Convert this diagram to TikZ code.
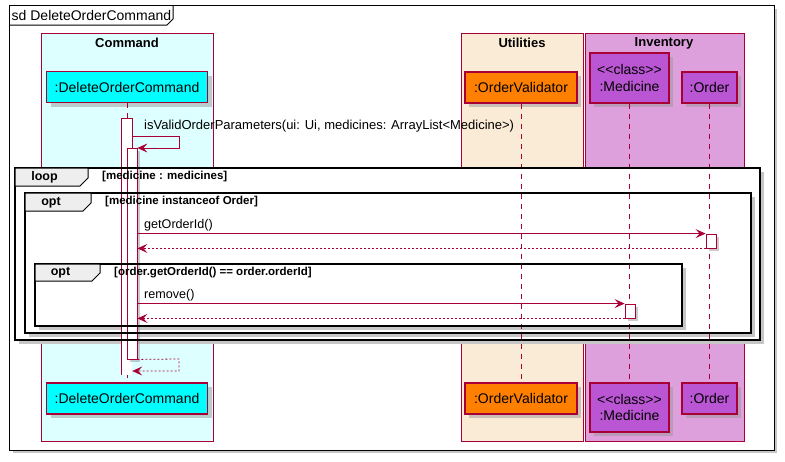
\documentclass[tikz,border=0pt]{standalone}
\usepackage{fontspec}
\setmainfont{Liberation Sans}
\usetikzlibrary{arrows.meta,shadows}
\definecolor{crim}{HTML}{A80036}
\definecolor{cmdbg}{HTML}{DDFFFF}
\definecolor{utilbg}{HTML}{FAEBD7}
\definecolor{invbg}{HTML}{DDA0DD}
\definecolor{cyanp}{HTML}{00FFFF}
\definecolor{orangep}{HTML}{FF8000}
\definecolor{orchidp}{HTML}{BA55D3}
\definecolor{tabgray}{HTML}{EEEEEE}
\newcommand\frbody[4]{%
  \draw[gray!45, line width=3pt] (#1+4,#4+2.5) -- (#3+2.5,#4+2.5) -- (#3+2.5,#2+4);
  \fill[white] (#1,#2) rectangle (#3,#4);}
\newcommand\frtop[8]{%
  \draw[black, line width=1.7pt] (#1,#2) rectangle (#3,#4);
  \filldraw[fill=tabgray, draw=black, line width=1pt] (#1,#2) -- (#5,#2) -- (#5,#6-8) -- (#5-8,#6) -- (#1,#6) -- cycle;
  \node[frlabel] at ({(#1+#5-14)/2},{(#2+#6)/2+0.5}) {#7};
  \node[guard] at (#5+14,{(#2+#6)/2}) {#8};}
\begin{document}
\begin{tikzpicture}[x=1pt,y=-1pt,
  part/.style={draw=crim, line width=1.2pt, inner sep=0pt, align=center,
    font=\fontsize{14}{16.5}\selectfont,
    drop shadow={shadow xshift=4pt, shadow yshift=-4pt, fill=black!40, opacity=.5}},
  act/.style={draw=crim, fill=white, line width=0.8pt, minimum width=10pt, inner sep=0pt,
    drop shadow={shadow xshift=3pt, shadow yshift=-3pt, fill=black!40, opacity=.5}},
  life/.style={crim, line width=0.8pt, dash pattern=on 5pt off 5pt},
  msg/.style={crim, line width=0.8pt, -{Stealth[length=10pt,width=9pt,inset=4pt]}},
  ret/.style={msg, dash pattern=on 2pt off 2pt},
  boxtitle/.style={font=\bfseries\fontsize{13}{15}\selectfont, inner sep=0pt},
  frlabel/.style={font=\bfseries\fontsize{12.5}{14}\selectfont, inner sep=0pt},
  guard/.style={font=\bfseries\fontsize{11.5}{13}\selectfont, inner sep=0pt, anchor=west},
  mlabel/.style={font=\fontsize{12.6}{14}\selectfont, inner sep=0pt, anchor=west}]
\useasboundingbox (0,0) rectangle (785,461);
\fill[white] (0,0) rectangle (785,461);
% outer frame
\draw[gray!45, line width=3pt] (13,451.5) -- (775.5,451.5) -- (775.5,9);
\draw[black, line width=1pt, fill=white] (9,5) rectangle (774,450);
\draw[black, line width=1pt] (9,25) -- (167,25) -- (173,19) -- (173,5);
\node[anchor=west, inner sep=0pt, font=\fontsize{14}{16}\selectfont] (title) at (11.5,15) {sd DeleteOrderCommand};
% boxes
\draw[crim, line width=0.8pt, fill=cmdbg] (41,33) rectangle (213,441);
\draw[crim, line width=0.8pt, fill=utilbg] (461,33) rectangle (583,441);
\draw[crim, line width=0.8pt, fill=invbg] (585,33) rectangle (744,441);
\node[boxtitle] (tcmd) at (127,43) {Command};
\node[boxtitle] (tutil) at (522,43) {Utilities};
\node[boxtitle] (tinv) at (664,43) {Inventory};
% frame bodies
\frbody{15}{168}{760}{340}
\frbody{25}{193}{751}{333}
\frbody{35}{264}{682}{326}
% participants
\node[part, fill=cyanp, minimum width=161pt, minimum height=31pt] (doc) at (127,87) {:DeleteOrderCommand};
\node[part, fill=cyanp, minimum width=161pt, minimum height=31pt] (docb) at (127,398.5) {:DeleteOrderCommand};
\node[part, fill=orangep, minimum width=112pt, minimum height=31pt] (ov) at (521,87.5) {:OrderValidator};
\node[part, fill=orangep, minimum width=112pt, minimum height=31pt] (ovb) at (521,398.5) {:OrderValidator};
\node[part, fill=orchidp, minimum width=79pt, minimum height=50pt] (med) at (629.5,78) {{<}{<}class{>}{>}\\:Medicine};
\node[part, fill=orchidp, minimum width=79pt, minimum height=49pt] (medb) at (629.5,407.5) {{<}{<}class{>}{>}\\:Medicine};
\node[part, fill=orchidp, minimum width=55pt, minimum height=31pt] (ord) at (709.5,87.5) {:Order};
\node[part, fill=orchidp, minimum width=55pt, minimum height=31pt] (ordb) at (709.5,398.5) {:Order};
% lifelines
\draw[life] (doc.south) -- (docb.north);
\draw[life] (ov.south) -- (ovb.north);
\draw[life] (med.south) -- (medb.north);
\draw[life] (ord.south) -- (ordb.north);
% activations
\node[fill=white, minimum width=10pt, minimum height=256pt, inner sep=0pt] (a1) at (127,247) {};
\node[act, minimum height=211pt] (a2) at (132,253.5) {};
\draw[crim, line width=0.8pt] (a1.south west) -- (a1.north west) -- (a1.north east) -- (a1.east |- a2.north);
\node[act, minimum height=14pt] (oa) at (711,241) {};
\node[act, minimum height=14pt] (ma) at (630,311) {};
% frame borders and labels
\frtop{15}{168}{760}{340}{88}{186}{loop}{[medicine : medicines]}
\frtop{25}{193}{751}{333}{91}{211}{opt}{[medicine instanceof Order]}
\frtop{35}{264}{682}{326}{100}{281}{opt}{[order.getOrderId() == order.orderId]}
% messages
\coordinate (s1) at (179,136);
\coordinate (s2) at (179,148);
\draw[msg] (a1.east |- s1) -- (s1) -- (s2) -- (a2.east |- s2);
\node[mlabel, font=\fontsize{13}{14}\selectfont] (l1) at (144,126) {isValidOrderParameters(ui: Ui, medicines: ArrayList<Medicine>)};
\draw[msg] (a2.east |- oa.north west) -- (oa.north west);
\node[mlabel] (l2) at (144,225) {getOrderId()};
\draw[ret] (oa.south west) -- (a2.east |- oa.south west);
\draw[msg] (a2.east |- ma.north west) -- (ma.north west);
\node[mlabel] (l3) at (144,295) {remove()};
\draw[ret] (ma.south west) -- (a2.east |- ma.south west);
\coordinate (r1) at (179,359);
\coordinate (r2) at (179,371);
\draw[ret] (a2.south east) -- (r1) -- (r2) -- (a1.east |- r2);
\end{tikzpicture}
\end{document}
